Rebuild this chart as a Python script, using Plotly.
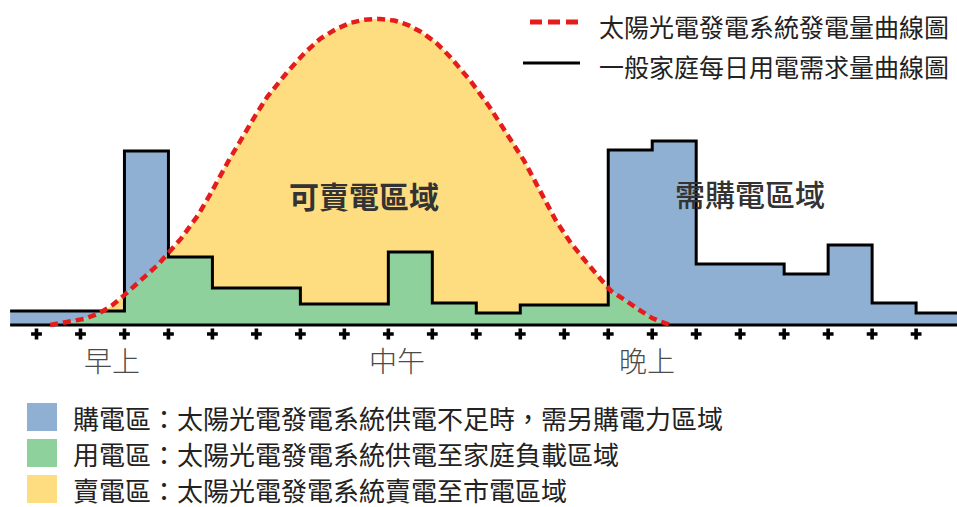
import numpy as np
import plotly.graph_objects as go

# ---------------- data ----------------
# household demand (step curve): segment edges (time-tick units) and levels
demand_edges = [-0.6, 2, 3, 4, 6, 8, 9, 10, 11, 13, 14, 15, 17, 18, 19, 20, 21.0]
demand_levels = [14, 174, 68, 37, 21, 73, 22, 12, 20, 175, 184, 61, 51, 80, 22, 12]

# solar generation curve (read points)
solar_x = [0.31, 0.75, 1.22, 1.67, 2.13, 2.58, 3.26, 3.79, 4.24, 4.70, 5.15, 5.61, 6.05,
           6.51, 7.13, 7.74, 8.33, 8.95, 9.47, 10.08, 10.54, 10.99, 11.45, 11.90, 12.36,
           12.81, 13.04, 13.49, 13.95, 14.40]
solar_y = [0, 3, 8, 18, 35, 52, 85, 118, 155, 188, 222, 248, 270,
           288, 302, 306, 302, 287, 265, 232, 202, 172, 133, 98, 70,
           48, 35, 22, 8, 0]

tick_positions = list(range(21))
axis_labels = ["早上", "中午", "晚上"]
axis_label_x = [1.72, 8.20, 13.88]

area_labels = ["可賣電區域", "需購電區域"]
area_label_x = [7.45, 16.22]
area_label_y = [130, 132]

line_legend = ["太陽光電發電系統發電量曲線圖", "一般家庭每日用電需求量曲線圖"]
area_legend = ["購電區：太陽光電發電系統供電不足時，需另購電力區域",
               "用電區：太陽光電發電系統供電至家庭負載區域",
               "賣電區：太陽光電發電系統賣電至市電區域"]

BLUE = "#8fb0d2"
GREEN = "#8ed19d"
YELLOW = "#fddd80"
RED = "#e51c1c"
FONT = "Noto Sans CJK TC"

# ------------- smooth solar curve (Catmull-Rom through read points) -------------
def catmull_rom(xs, ys, n=24):
    P = np.column_stack([xs, ys]).astype(float)
    E = np.vstack([2 * P[0] - P[1], P, 2 * P[-1] - P[-2]])
    t = np.linspace(0, 1, n, endpoint=False)[:, None]
    h00 = 2 * t**3 - 3 * t**2 + 1
    h10 = t**3 - 2 * t**2 + t
    h01 = -2 * t**3 + 3 * t**2
    h11 = t**3 - t**2
    segs = []
    for i in range(len(P) - 1):
        p0, p1, p2, p3 = E[i], E[i + 1], E[i + 2], E[i + 3]
        m1 = (p2 - p0) / 2
        m2 = (p3 - p1) / 2
        segs.append(h00 * p1 + h10 * m1 + h01 * p2 + h11 * m2)
    segs.append(P[-1:])
    C = np.vstack(segs)
    cx = np.maximum.accumulate(C[:, 0])
    cy = np.clip(C[:, 1], 0, None)
    return cx, cy

cx, cy = catmull_rom(solar_x, solar_y)

edges = np.array(demand_edges, dtype=float)
levels = np.array(demand_levels, dtype=float)

X = np.unique(np.concatenate([
    np.arange(edges[0], edges[-1], 0.01), cx,
    edges[1:-1] - 1e-6, edges[1:-1] + 1e-6, [edges[0], edges[-1]]]))
idx = np.clip(np.searchsorted(edges, X, side="right") - 1, 0, len(levels) - 1)
D = levels[idx]
S = np.interp(X, cx, cy, left=0, right=0)
M = np.minimum(D, S)

fig = go.Figure()
# green: used by household
fig.add_trace(go.Scatter(x=X, y=M, mode="lines", line=dict(width=0), fill="tozeroy",
                         fillcolor=GREEN, hoverinfo="skip", showlegend=False))
# yellow: sold
fig.add_trace(go.Scatter(x=X, y=S, mode="lines", line=dict(width=0), fill="tonexty",
                         fillcolor=YELLOW, hoverinfo="skip", showlegend=False))
# helper
fig.add_trace(go.Scatter(x=X, y=M, mode="lines", line=dict(width=0),
                         hoverinfo="skip", showlegend=False))
# blue: purchased
fig.add_trace(go.Scatter(x=X, y=D, mode="lines", line=dict(width=0), fill="tonexty",
                         fillcolor=BLUE, hoverinfo="skip", showlegend=False))
# demand step outline
fig.add_trace(go.Scatter(x=demand_edges, y=demand_levels + [demand_levels[-1]],
                         mode="lines", line=dict(color="black", width=3, shape="hv"),
                         showlegend=False))
# baseline
fig.add_trace(go.Scatter(x=[edges[0], edges[-1]], y=[0, 0], mode="lines",
                         line=dict(color="black", width=3), showlegend=False))
# solar dashed curve
fig.add_trace(go.Scatter(x=cx, y=cy, mode="lines",
                         line=dict(color=RED, width=4.5, dash="8px,5px"), showlegend=False))
# "+" ticks
fig.add_trace(go.Scatter(x=tick_positions, y=[-9] * len(tick_positions), mode="markers",
                         marker=dict(symbol="cross", size=9, color="black",
                                     line=dict(width=0)), showlegend=False))

W, H = 957, 507
annotations = []
for lab, xv in zip(axis_labels, axis_label_x):
    annotations.append(dict(x=xv, y=-35, xref="x", yref="y", text=lab, showarrow=False,
                            font=dict(family=FONT, size=28, color="#4a4a4a", weight=300),
                            xanchor="center", yanchor="middle"))
for lab, xv, yv in zip(area_labels, area_label_x, area_label_y):
    annotations.append(dict(x=xv, y=yv, xref="x", yref="y", text=lab, showarrow=False,
                            font=dict(family=FONT, size=30, color="#333333",
                                      weight=700 if lab == area_labels[0] else 500),
                            xanchor="center", yanchor="middle"))

shapes = []
# top legend
top_rows = [26, 66]
line_y = [22, 63]
styles = [dict(color=RED, width=5, dash="12px,6px"), dict(color="black", width=3)]
x0s = [530, 523]
for lab, ty, ly, st, x0 in zip(line_legend, top_rows, line_y, styles, x0s):
    shapes.append(dict(type="line", xref="paper", yref="paper",
                       x0=x0 / W, x1=580 / W, y0=1 - ly / H, y1=1 - ly / H, line=st))
    annotations.append(dict(x=597 / W, y=1 - ty / H, xref="paper", yref="paper", text=lab,
                            showarrow=False, xanchor="left", yanchor="middle",
                            font=dict(family=FONT, size=25, color="#222222")))
# bottom legend
rows = [417, 453, 489]
for lab, ry, col in zip(area_legend, rows, [BLUE, GREEN, YELLOW]):
    shapes.append(dict(type="rect", xref="paper", yref="paper",
                       x0=27 / W, x1=57 / W, y0=1 - (ry - 14) / H, y1=1 - (ry + 14) / H,
                       fillcolor=col, line=dict(width=0)))
    annotations.append(dict(x=71 / W, y=1 - ry / H, xref="paper", yref="paper", text=lab,
                            showarrow=False, xanchor="left", yanchor="middle",
                            font=dict(family=FONT, size=26, color="#222222")))

k0 = -36.5 / 43.98
k1 = (957 - 36.5) / 43.98
fig.update_layout(
    width=W, height=H, autosize=False,
    margin=dict(l=0, r=0, t=0, b=0, pad=0),
    paper_bgcolor="white", plot_bgcolor="white",
    xaxis=dict(range=[k0, k1], visible=False, fixedrange=True),
    yaxis=dict(range=[325 - 507, 325], visible=False, fixedrange=True),
    annotations=annotations, shapes=shapes, showlegend=False,
)
fig.write_html("out.html")
